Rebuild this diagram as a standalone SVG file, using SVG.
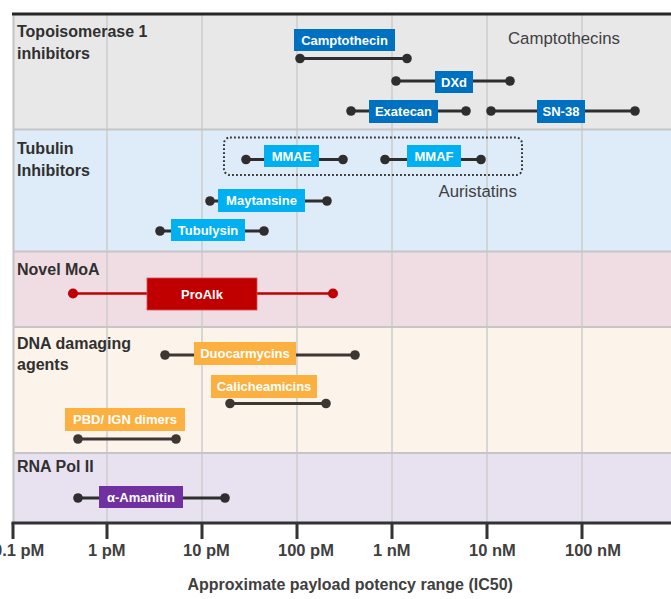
<svg xmlns="http://www.w3.org/2000/svg" width="671" height="599" viewBox="0 0 671 599">
<style>
.cat{font-family:"Liberation Sans",Arial,sans-serif;font-weight:bold;font-size:16px;fill:#303030}
.pill{font-family:"Liberation Sans",Arial,sans-serif;font-weight:bold;font-size:13px;fill:#ffffff;text-anchor:middle}
.note{font-family:"Liberation Sans",Arial,sans-serif;font-size:16.8px;fill:#404040}
.tick{font-family:"Liberation Sans",Arial,sans-serif;font-weight:bold;font-size:16.5px;fill:#404040}
.title{font-family:"Liberation Sans",Arial,sans-serif;font-weight:bold;font-size:16px;fill:#404040}
.grid{stroke:#cdcdcd;stroke-width:1.5}
.sep{stroke:#c6c6c6;stroke-width:2.2}
.bar{stroke:#2e2e2e;stroke-width:3;marker-start:url(#dot);marker-end:url(#dot)}
.barb{stroke:#3d3731;stroke-width:3;marker-start:url(#dotb);marker-end:url(#dotb)}
.barr{stroke:#c00000;stroke-width:2.5;marker-start:url(#dotr);marker-end:url(#dotr)}
.blue{fill:#0070c0}
.cyan{fill:#00b0f0}
.red{fill:#c00000;stroke:#d65050;stroke-width:0.8}
.orange{fill:#fbb040}
.purple{fill:#7030a0}
.axis{stroke:#333333;stroke-width:3;fill:none}
</style>
<defs>
<marker id="dot" markerWidth="12" markerHeight="12" refX="6" refY="6" markerUnits="userSpaceOnUse"><circle cx="6" cy="6" r="4.8" fill="#2e2e2e"/></marker>
<marker id="dotb" markerWidth="12" markerHeight="12" refX="6" refY="6" markerUnits="userSpaceOnUse"><circle cx="6" cy="6" r="4.8" fill="#3d3731"/></marker>
<marker id="dotr" markerWidth="12" markerHeight="12" refX="6" refY="6" markerUnits="userSpaceOnUse"><circle cx="6" cy="6" r="5" fill="#c00000"/></marker>
</defs>
<rect width="671" height="599" fill="#ffffff"/>
<g id="bands">
<rect x="13" y="15" width="658" height="114" fill="#e8e8e8"/>
<rect x="13" y="129" width="658" height="122" fill="#deebf8"/>
<rect x="13" y="251" width="658" height="76" fill="#f0dde4"/>
<rect x="13" y="327" width="658" height="126" fill="#fcf3ea"/>
<rect x="13" y="453" width="658" height="70" fill="#e8e1f0"/>
</g>
<g id="gridlines">
<line class="grid" x1="107" y1="15" x2="107" y2="522"/>
<line class="grid" x1="202" y1="15" x2="202" y2="522"/>
<line class="grid" x1="297" y1="15" x2="297" y2="522"/>
<line class="grid" x1="392" y1="15" x2="392" y2="522"/>
<line class="grid" x1="487" y1="15" x2="487" y2="522"/>
<line class="grid" x1="582" y1="15" x2="582" y2="522"/>
<line class="sep" x1="13" y1="129.5" x2="671" y2="129.5"/>
<line class="sep" x1="13" y1="251.5" x2="671" y2="251.5"/>
<line class="sep" x1="13" y1="327" x2="671" y2="327"/>
<line class="sep" x1="13" y1="453" x2="671" y2="453"/>
<line class="sep" x1="13.5" y1="15" x2="13.5" y2="522"/>
<line x1="12" y1="14" x2="671" y2="14" stroke="#262626" stroke-width="3"/>
</g>
<g id="categories">
<text class="cat" x="17" y="37">Topoisomerase 1</text>
<text class="cat" x="17" y="59">inhibitors</text>
<text class="cat" x="17" y="154">Tubulin</text>
<text class="cat" x="17" y="176">Inhibitors</text>
<text class="cat" x="17" y="275">Novel MoA</text>
<text class="cat" x="17" y="349">DNA damaging</text>
<text class="cat" x="17" y="370">agents</text>
<text class="cat" x="17" y="472">RNA Pol II</text>
</g>
<g id="groups">
<text class="note" x="508" y="44">Camptothecins</text>
<rect x="224" y="137.5" width="298" height="37.5" rx="6" fill="none" stroke="#333333" stroke-width="2" stroke-dasharray="1.8 2.2"/>
<text class="note" x="438.5" y="197">Auristatins</text>
</g>
<g id="connectors">
<line class="bar" x1="300" y1="58.5" x2="407" y2="58.5"/>
<line class="bar" x1="396" y1="81" x2="510" y2="81"/>
<line class="bar" x1="351" y1="111" x2="466" y2="111"/>
<line class="bar" x1="491" y1="111" x2="635" y2="111"/>
<line class="bar" x1="246" y1="159.5" x2="343" y2="159.5"/>
<line class="bar" x1="385" y1="159.5" x2="481" y2="159.5"/>
<line class="bar" x1="210" y1="201" x2="327" y2="201"/>
<line class="bar" x1="160" y1="231" x2="264" y2="231"/>
<line class="barr" x1="73" y1="293.5" x2="333" y2="293.5"/>
<line class="barb" x1="165" y1="355" x2="355" y2="355"/>
<line class="barb" x1="230" y1="403.5" x2="326" y2="403.5"/>
<line class="barb" x1="78" y1="439" x2="176" y2="439"/>
<line class="bar" x1="78" y1="498" x2="225" y2="498"/>
</g>
<g id="camptothecin"><rect class="blue" x="294" y="29" width="101" height="22"/><text class="pill" x="344.5" y="44.5">Camptothecin</text></g>
<g id="dxd"><rect class="blue" x="435" y="71" width="38" height="22"/><text class="pill" x="454" y="86.5">DXd</text></g>
<g id="exatecan"><rect class="blue" x="369" y="100" width="69" height="23"/><text class="pill" x="403.5" y="116">Exatecan</text></g>
<g id="sn38"><rect class="blue" x="537" y="100" width="48" height="23"/><text class="pill" x="561" y="116">SN-38</text></g>
<g id="mmae"><rect class="cyan" x="264" y="145" width="55" height="22"/><text class="pill" x="291.5" y="160.5">MMAE</text></g>
<g id="mmaf"><rect class="cyan" x="407" y="145" width="54" height="22"/><text class="pill" x="434" y="160.5">MMAF</text></g>
<g id="maytansine"><rect class="cyan" x="218" y="189" width="87" height="23"/><text class="pill" x="261.5" y="205">Maytansine</text></g>
<g id="tubulysin"><rect class="cyan" x="171" y="219" width="74" height="22"/><text class="pill" x="208" y="234.5">Tubulysin</text></g>
<g id="proalk"><rect class="red" x="147" y="278" width="110" height="32"/><text class="pill" x="202" y="298.5">ProAlk</text></g>
<g id="duocarmycins"><rect class="orange" x="194" y="342" width="102" height="23"/><text class="pill" x="245" y="358">Duocarmycins</text></g>
<g id="calicheamicins"><rect class="orange" x="211" y="375" width="106" height="23"/><text class="pill" x="264" y="391">Calicheamicins</text></g>
<g id="pbd"><rect class="orange" x="65" y="408" width="120" height="23"/><text class="pill" x="125" y="424">PBD/ IGN dimers</text></g>
<g id="amanitin"><rect class="purple" x="99" y="486" width="84" height="22"/><text class="pill" x="141" y="501.5">α-Amanitin</text></g>
<g id="axis">
<line class="axis" x1="11.5" y1="523" x2="671" y2="523"/>
<path class="axis" d="M13,523V539M107,523V539M202,523V539M297,523V539M392,523V539M487,523V539M582,523V539"/>
<text class="tick" x="-7" y="556">0.1 pM</text>
<text class="tick" x="88" y="556">1 pM</text>
<text class="tick" x="183" y="556">10 pM</text>
<text class="tick" x="278" y="556">100 pM</text>
<text class="tick" x="373" y="556">1 nM</text>
<text class="tick" x="469" y="556">10 nM</text>
<text class="tick" x="565" y="556">100 nM</text>
<text class="title" x="187.5" y="590">Approximate payload potency range (IC50)</text>
</g>
</svg>
